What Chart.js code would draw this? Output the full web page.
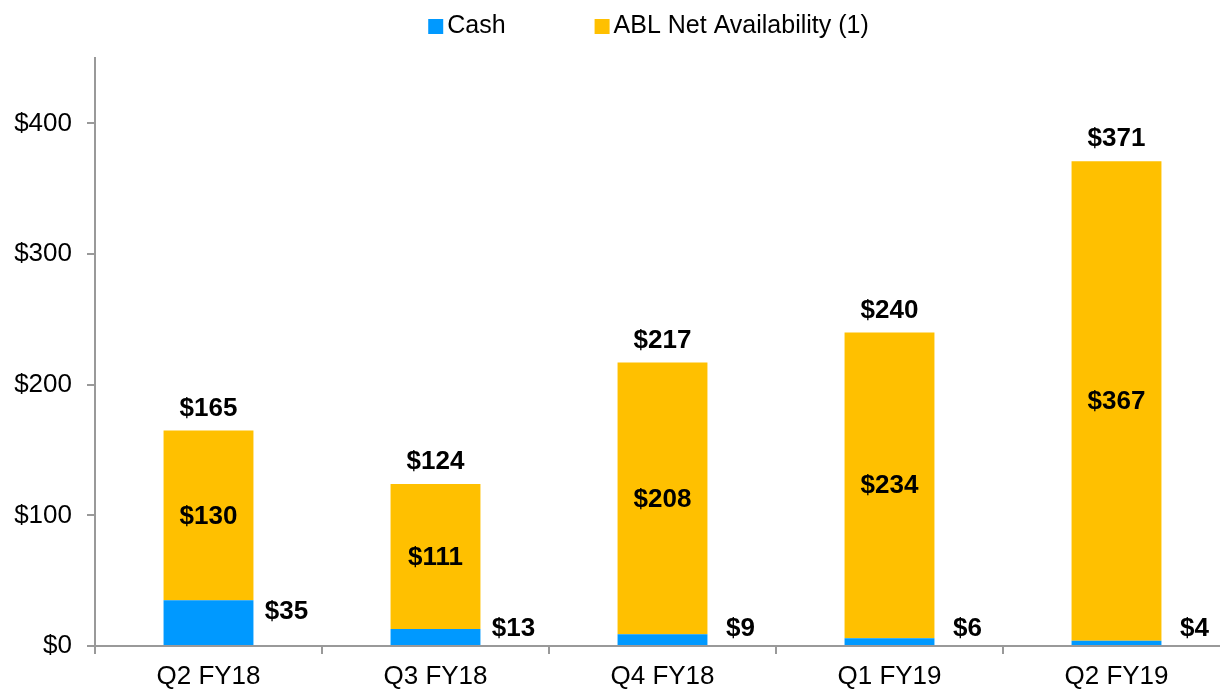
<!DOCTYPE html>
<html>
<head>
<meta charset="utf-8">
<script src="https://cdn.jsdelivr.net/npm/chart.js@4.4.0/dist/chart.umd.min.js"></script>
<style>
  html, body { margin: 0; padding: 0; background: #fff; overflow: hidden; }
  #wrap { width: 1220px; height: 689px; overflow: hidden; }
</style>
</head>
<body>
<div id="wrap"><canvas id="chart" width="1230" height="689"></canvas></div>
<script>
// Datos (millones de $)
const QUARTERS = ['Q2 FY18', 'Q3 FY18', 'Q4 FY18', 'Q1 FY19', 'Q2 FY19'];
const CASH = [35, 13, 9, 6, 4];
const ABL = [130, 111, 208, 234, 367];
const TOTAL = [165, 124, 217, 240, 371];
const Y_TICKS = [0, 100, 200, 300, 400];

const BLUE = '#0099FF';
const GOLD = '#FFC000';
const AXIS = '#999999';
const FONT = '"Liberation Sans", Arial, sans-serif';

// Etiquetas de valor: caja junto a la barra, ABL centrado, total encima
const valueLabels = {
  id: 'valueLabels',
  afterDatasetsDraw(chart) {
    const ctx = chart.ctx;
    const cash = chart.getDatasetMeta(0).data;
    const abl = chart.getDatasetMeta(1).data;
    const zero = chart.scales.y.getPixelForValue(0);
    ctx.save();
    ctx.font = `bold 26px ${FONT}`;
    ctx.fillStyle = '#000';
    ctx.textAlign = 'center';
    ctx.textBaseline = 'middle';
    cash.forEach((bar, i) => {
      ctx.fillText('$' + CASH[i], bar.x + 78, Math.min(bar.y + 12, zero - 17));
      const a = abl[i];
      ctx.fillText('$' + ABL[i], a.x, (a.y + a.base) / 2 + 1);
      ctx.fillText('$' + TOTAL[i], a.x, a.y - 22);
    });
    ctx.restore();
  },
};

// Leyenda propia (cuadrado pequeño pegado al texto)
const topLegend = {
  id: 'topLegend',
  afterDraw(chart) {
    const ctx = chart.ctx;
    const items = chart.data.datasets;
    ctx.save();
    ctx.font = `25px ${FONT}`;
    ctx.textBaseline = 'middle';
    ctx.textAlign = 'left';
    const box = 15, gap = 4, spacing = 89;
    const widths = items.map(d => ctx.measureText(d.label).width);
    const total = widths.reduce((s, w) => s + box + gap + w, 0) + spacing * (items.length - 1);
    const cx = (chart.chartArea.left + chart.chartArea.right) / 2 - 14;
    let x = cx - total / 2;
    const y = 26;
    items.forEach((d, i) => {
      ctx.fillStyle = d.backgroundColor;
      ctx.fillRect(x, y - 7, box, box);
      ctx.fillStyle = '#000';
      ctx.fillText(d.label, x + box + gap, y);
      x += box + gap + widths[i] + spacing;
    });
    ctx.restore();
  },
};

new Chart(document.getElementById('chart'), {
  type: 'bar',
  data: {
    labels: QUARTERS,
    datasets: [
      { label: 'Cash', data: CASH, backgroundColor: BLUE },
      { label: 'ABL Net Availability (1)', data: ABL, backgroundColor: GOLD },
    ],
  },
  options: {
    responsive: false,
    animation: false,
    events: [],
    datasets: { bar: { barPercentage: 0.396, categoryPercentage: 1, borderWidth: 0 } },
    layout: { padding: { top: 58, left: 0, right: 0, bottom: 0 } },
    plugins: {
      legend: { display: false },
      tooltip: { enabled: false },
    },
    scales: {
      x: {
        stacked: true,
        afterFit: (s) => { s.height = 43; },
        grid: { offset: true, drawOnChartArea: false, drawTicks: true, tickLength: 8, color: AXIS, lineWidth: 2 },
        border: { color: AXIS, width: 2 },
        ticks: { color: '#000', font: { family: FONT, size: 26 }, padding: 7 },
      },
      y: {
        stacked: true,
        min: 0,
        max: 450,
        afterFit: (s) => { s.width = 95; },
        afterBuildTicks: (s) => { s.ticks = Y_TICKS.map(v => ({ value: v })); },
        grid: { drawOnChartArea: false, drawTicks: true, tickLength: 8, color: AXIS, lineWidth: 2 },
        border: { color: AXIS, width: 2 },
        ticks: {
          color: '#000',
          font: { family: FONT, size: 26 },
          padding: 15,
          callback: (v) => '$' + v,
        },
      },
    },
  },
  plugins: [valueLabels, topLegend],
});
</script>
</body>
</html>
